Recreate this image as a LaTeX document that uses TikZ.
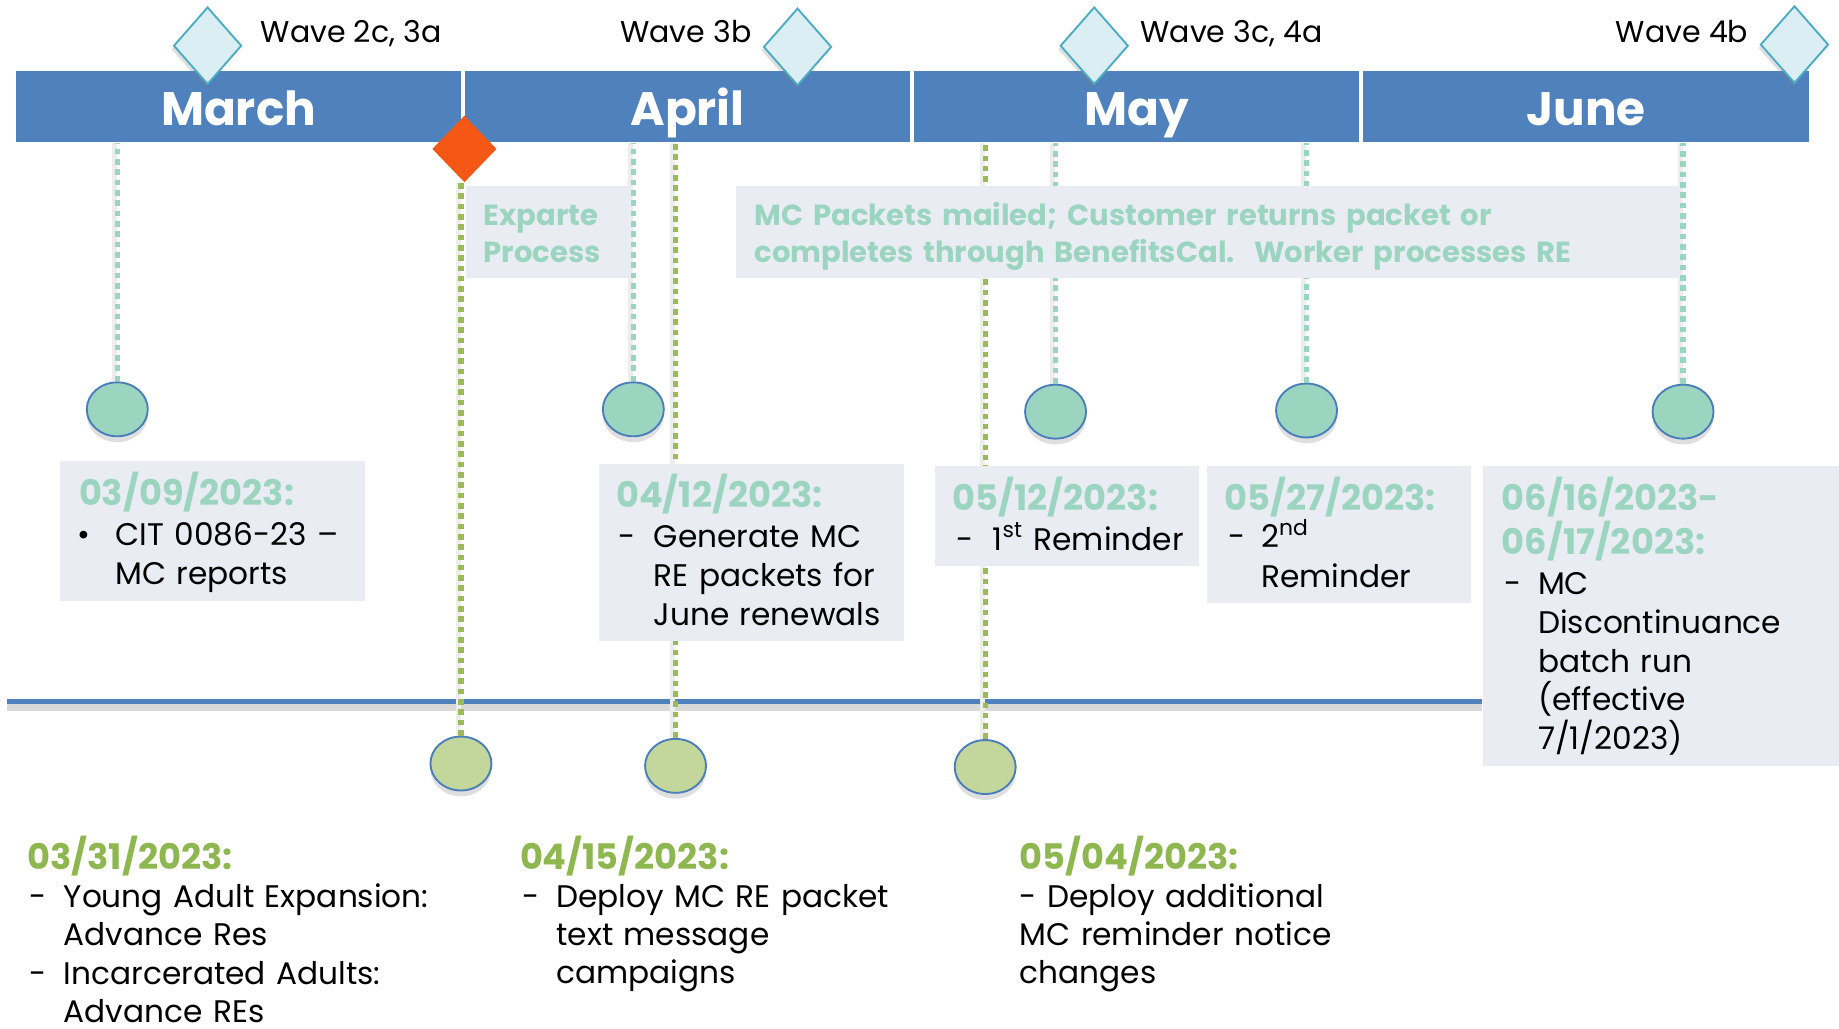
\documentclass[tikz,border=0pt]{standalone}
\usepackage{fontspec}
\setmainfont{Poppins}
\usetikzlibrary{positioning,shapes.geometric,shadows}

\definecolor{barblue}{RGB}{79,129,189}
\definecolor{ringblue}{RGB}{74,126,187}
\definecolor{wavefill}{RGB}{218,238,243}
\definecolor{waveedge}{RGB}{75,172,198}
\definecolor{exorange}{RGB}{245,88,20}
\definecolor{mint}{RGB}{155,213,192}
\definecolor{olive}{RGB}{155,187,89}
\definecolor{olivetext}{RGB}{143,183,80}
\definecolor{olivedot}{RGB}{195,214,155}
\definecolor{boxgray}{RGB}{233,237,243}

\begin{document}
\begin{tikzpicture}[x=0.5pt, y=-0.5pt,
  month/.style = {fill=barblue, text=white, inner sep=0pt, minimum width=190pt, minimum height=30.5pt, text height=18pt, text depth=2pt, font=\fontsize{20}{24}\selectfont\bfseries},
  wave/.style = {diamond, draw=waveedge, fill=wavefill, line width=0.8pt, inner sep=0pt, minimum width=29pt, minimum height=33pt, drop shadow={shadow xshift=-1pt, shadow yshift=-1.5pt, opacity=0.25}},
  wavetxt/.style = {inner sep=0pt, font=\fontsize{12.8}{15}\selectfont},
  dot/.style = {ellipse, draw=ringblue, line width=0.8pt, inner sep=0pt, minimum width=26pt, minimum height=23pt, drop shadow={shadow xshift=0pt, shadow yshift=-2.5pt, opacity=0.25}},
  tdot/.style = {dot, fill=mint},
  gdot/.style = {dot, fill=olivedot},
  tline/.style = {draw=mint, line width=2.2pt, dash pattern=on 2.4pt off 2pt, preaction={draw=black!7, line width=2.2pt, solid, transform canvas={xshift=-1.2pt}}},
  gline/.style = {tline, draw=olive},
  panel/.style = {fill=boxgray, inner sep=0pt, anchor=north west},
  tdate/.style = {text=mint, inner sep=0pt, anchor=base west, text width=170pt, align=left, font=\fontsize{15}{19}\selectfont\bfseries},
  gdate/.style = {tdate, text=olivetext},
  body/.style = {inner sep=0pt, anchor=base west, text width=170pt, align=left, font=\fontsize{13.3}{16.5}\selectfont},
  note/.style = {body, text=mint, text width=420pt, font=\fontsize{12.4}{16}\selectfont\bfseries}]
\useasboundingbox (0,0) rectangle (1568,877);

% months
\node[month, anchor=north west] (mar) at (13,60) {March};
\node[month, right=1pt of mar] (apr) {April};
\node[month, right=1pt of apr] (may) {May};
\node[month, right=1pt of may, minimum width=190.5pt] (jun) {June};

% waves
\node[wave] (w2c) at (177,39) {};
\node[wave] (w3b) at (680,40) {};
\node[wave] (w3c) at (933,39) {};
\node[wave] (w4b) at (1530,38) {};
\node[wavetxt, anchor=base west] (lw2c) at (222,36) {Wave 2c, 3a};
\node[wavetxt, anchor=base east] (lw3b) at (641,36) {Wave 3b};
\node[wavetxt, anchor=base west] (lw3c) at (972,36) {Wave 3c, 4a};
\node[wavetxt, anchor=base east] (lw4b) at (1491,36) {Wave 4b};

% exparte start
\node[diamond, fill=exorange, inner sep=0pt, minimum width=27.5pt, minimum height=28.5pt] (exp) at (396,127) {};

% time axis
\coordinate (axl) at (6,598);
\coordinate (axr) at (1264,598);
\draw[black!15, line width=3pt] ([yshift=-2.5pt]axl) -- ([yshift=-2.5pt]axr);
\draw[barblue, line width=2pt] (axl) -- (axr);

% milestones
\node[tdot] (c0309) at (100,349) {};
\node[tdot] (c0412) at (540,349) {};
\node[tdot] (c0512) at (900,351) {};
\node[tdot] (c0527) at (1114,350) {};
\node[tdot] (c0616) at (1435,351) {};
\node[gdot] (c0331) at (393,651) {};
\node[gdot] (c0415) at (576,653) {};
\node[gdot] (c0504) at (840,654) {};

\draw[tline] (c0309.north) -- (c0309.north |- mar.south);
\draw[tline] (c0412.north) -- (c0412.north |- apr.south);
\draw[tline] (c0512.north) -- (c0512.north |- may.south);
\draw[tline] (c0527.north) -- (c0527.north |- may.south);
\draw[tline] (c0616.north) -- (c0616.north |- jun.south);
\draw[gline] (c0331.north) -- (c0331.north |- exp.south);
\draw[gline] (c0415.north) -- (c0415.north |- apr.south);
\draw[gline] (c0504.north) -- (c0504.north |- may.south);

% panels
\node[panel, minimum width=70pt, minimum height=39.5pt] (pexp) at (397,158) {};
\node[panel, minimum width=402.5pt, minimum height=39.5pt] (pmc) at (627,158) {};
\node[panel, minimum width=130pt, minimum height=59.5pt] (p0309) at (51,393) {};
\node[panel, minimum width=130pt, minimum height=75.5pt] (p0412) at (510,395) {};
\node[panel, minimum width=112.5pt, minimum height=42.5pt] (p0512) at (797,397) {};
\node[panel, minimum width=112.5pt, minimum height=58.5pt] (p0527) at (1029,397) {};
\node[panel, minimum width=152pt, minimum height=128pt] (p0616) at (1264,397) {};

\node[note] (texp) at (412,192) {Exparte\\Process};
\node[note] (tmc) at (643,192) {MC Packets mailed; Customer returns packet or\\completes through BenefitsCal.\ \ Worker processes RE};

\node[tdate] (d0309) at (67,431) {03/09/2023:};
\node[body] (k0309) at (66,465) {•};
\node[body] (t0309) at (98,465) {CIT 0086-23 –\\MC reports};

\node[tdate] (d0412) at (525,433) {04/12/2023:};
\node[body] (k0412) at (527,467) {-};
\node[body] (t0412) at (557,467) {Generate MC\\RE packets for\\June renewals};

\node[tdate] (d0512) at (812,435) {05/12/2023:};
\node[body] (k0512) at (815,469) {-};
\node[body] (t0512) at (846,469) {1\textsuperscript{st} Reminder};

\node[tdate] (d0527) at (1044,435) {05/27/2023:};
\node[body] (k0527) at (1047,467) {-};
\node[body, font=\fontsize{13.3}{17}\selectfont] (t0527) at (1075,467) {2\textsuperscript{nd}\\Reminder};

\node[tdate] (d0616) at (1280,435) {06/16/2023-\\06/17/2023:};
\node[body] (k0616) at (1282,507) {-};
\node[body] (t0616) at (1311,507) {MC\\Discontinuance\\batch run\\(effective\\7/1/2023)};

% below the axis
\node[gdate] (d0331) at (23,741) {03/31/2023:};
\node[body] (k0331a) at (25,774) {-};
\node[body, font=\fontsize{13.3}{16.2}\selectfont] (t0331a) at (54,774) {Young Adult Expansion:\\Advance Res};
\node[body] (k0331b) at (25,839) {-};
\node[body, font=\fontsize{13.3}{16.2}\selectfont] (t0331b) at (54,839) {Incarcerated Adults:\\Advance REs};

\node[gdate] (d0415) at (443,741) {04/15/2023:};
\node[body] (k0415) at (445,774) {-};
\node[body, font=\fontsize{13.3}{16.2}\selectfont] (t0415) at (474,774) {Deploy MC RE packet\\text message\\campaigns};

\node[gdate] (d0504) at (869,741) {05/04/2023:};
\node[body, font=\fontsize{13.3}{16.2}\selectfont] (t0504) at (869,774) {- Deploy additional\\MC reminder notice\\changes};

\end{tikzpicture}
\end{document}
